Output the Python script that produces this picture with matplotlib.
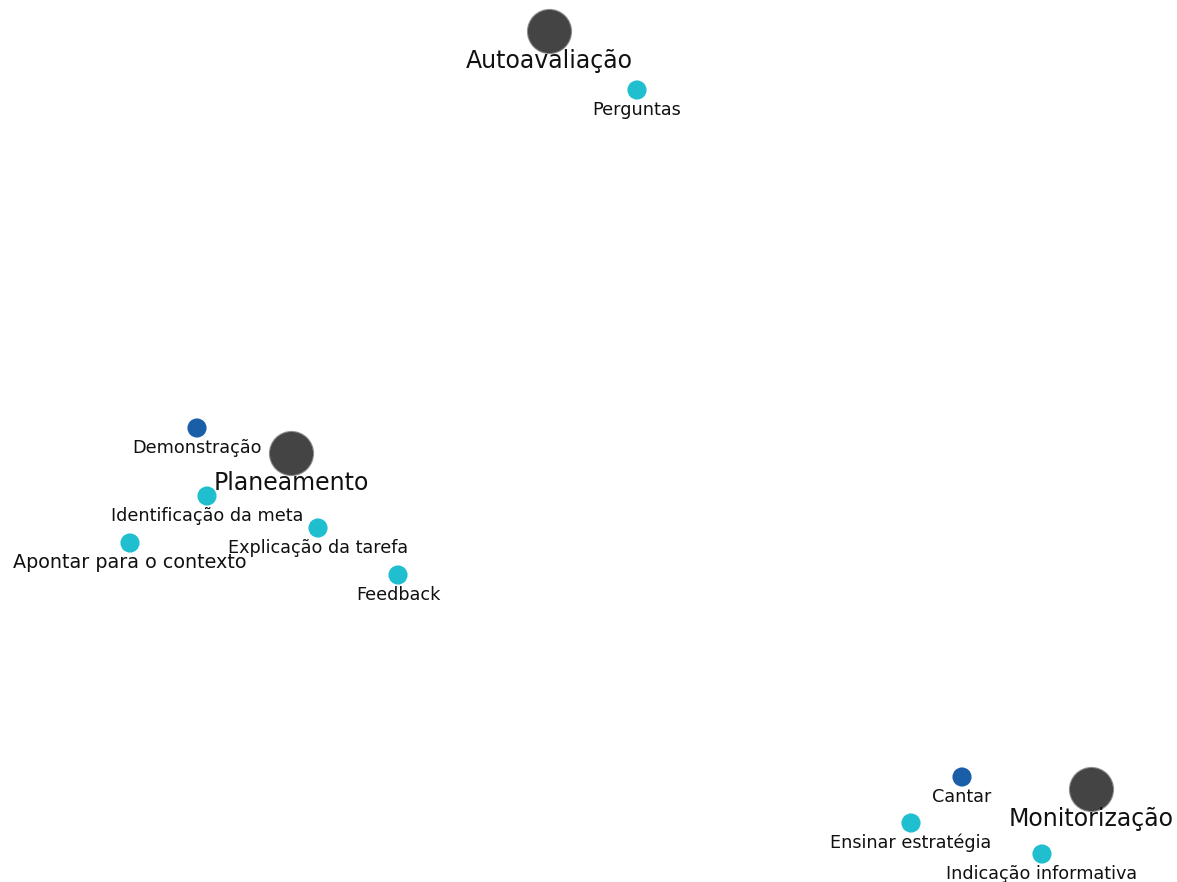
import matplotlib.pyplot as plt

# node layout (pixel positions of the original network drawing)
hub_names = ["Autoavaliação", "Planeamento", "Monitorização"]
hub_x = [549, 291, 1091]
hub_y = [31, 453, 789]

leaf_names = ["Perguntas", "Demonstração", "Identificação da meta",
              "Explicação da tarefa", "Apontar para o contexto", "Feedback",
              "Cantar", "Ensinar estratégia", "Indicação informativa"]
leaf_x = [637, 197, 207, 318, 130, 398, 962, 911, 1042]
leaf_y = [90, 428, 496, 528, 543, 575, 777, 823, 854]
leaf_kind = ["a", "b", "a", "a", "a", "a", "b", "a", "a"]

COLORS = {"a": "#1fbfd0", "b": "#1b5ea8"}

fig = plt.figure(figsize=(11.77, 8.82), dpi=100)
ax = fig.add_axes([0, 0, 1, 1])
ax.set_xlim(0, 1177)
ax.set_ylim(882, 0)
ax.axis("off")

# hubs, with a soft edge
ax.scatter(hub_x, hub_y, s=1060, color="#444444", alpha=0.6, linewidths=0, zorder=2)
ax.scatter(hub_x, hub_y, s=960, color="#444444", linewidths=0, zorder=3)
for name, x, y in zip(hub_names, hub_x, hub_y):
    ax.text(x, y + 30, name, ha="center", va="center", fontsize=17,
            color="#111111", zorder=5)

ax.scatter(leaf_x, leaf_y, s=190, c=[COLORS[k] for k in leaf_kind],
           linewidths=0, zorder=4)
for name, x, y in zip(leaf_names, leaf_x, leaf_y):
    fs = 13.8 if name == "Apontar para o contexto" else 12.7
    ax.text(x, y + 20, name, ha="center", va="center", fontsize=fs,
            color="#111111", zorder=5)

fig.savefig("out.png", dpi=100)
